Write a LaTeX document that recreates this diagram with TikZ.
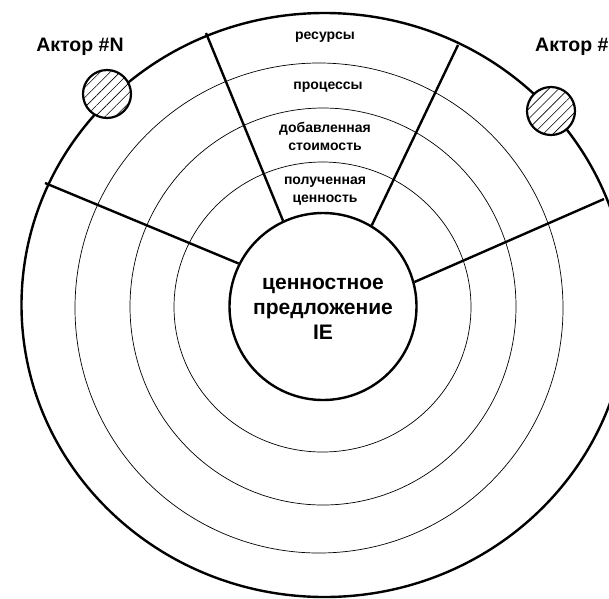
\documentclass[tikz,border=0pt]{standalone}
\usepackage{fontspec}
\setmainfont{Liberation Sans}
\usetikzlibrary{patterns.meta}
\begin{document}
\begin{tikzpicture}[x=1pt,y=-1pt,
  ring/.style={line width=0.7pt},
  heavy/.style={line width=2.4pt},
  actor/.style={circle, draw, line width=2.2pt, minimum size=48pt, inner sep=0pt,
    preaction={fill=white}, pattern={Lines[angle=45,distance=7pt,line width=0.6pt]}},
  ringlab/.style={font=\bfseries\fontsize{14}{18}\selectfont, align=center, inner sep=0pt},
  actlab/.style={font=\bfseries\fontsize{19.5}{23}\selectfont, inner sep=0pt},
  core/.style={circle, draw, line width=2.4pt, minimum size=187pt, inner sep=0pt, fill=white},
  coretext/.style={font=\bfseries\fontsize{21}{25}\selectfont, align=center, inner sep=0pt}
]
\useasboundingbox (0,0) rectangle (609,598);
% rings
\draw[ring] (322.5,307) ellipse [x radius=148.5, y radius=145];
\draw[ring] (323,306.5) ellipse [x radius=193, y radius=198.5];
\draw[ring] (319,308) ellipse [x radius=244, y radius=245];
\draw[heavy] (324.5,305) ellipse [x radius=303, y radius=292];
% core
\node[core] (ce) at (323,306.5) {};
\node[coretext] (ct) at (323,309) {ценностное\\предложение\\IE};
% spoke ends on outer ring
\coordinate (o1) at (206,33);
\coordinate (o2) at (458,45);
\coordinate (o3) at (45,183);
\coordinate (o4) at (604,199);
\draw[heavy] (ce.115) -- (o1);
\draw[heavy] (ce.59) -- (o2);
\draw[heavy] (ce.153) -- (o3);
\draw[heavy] (ce.15) -- (o4);
% ring labels
\node[ringlab] (l1) at (325,37) {ресурсы};
\node[ringlab] (l2) at (328,87) {процессы};
\node[ringlab] (l3) at (325,136) {добавленная\\стоимость};
\node[ringlab] (l4) at (325,191) {полученная\\ценность};
% actors
\node[actor] (aN) at (107,94) {};
\node[actor] (a1) at (551,111) {};
\node[actlab] (tN) at (80,47) {Актор \#N};
\node[actlab, anchor=west] (t1) at (535,47) {Актор \#};
\end{tikzpicture}
\end{document}
